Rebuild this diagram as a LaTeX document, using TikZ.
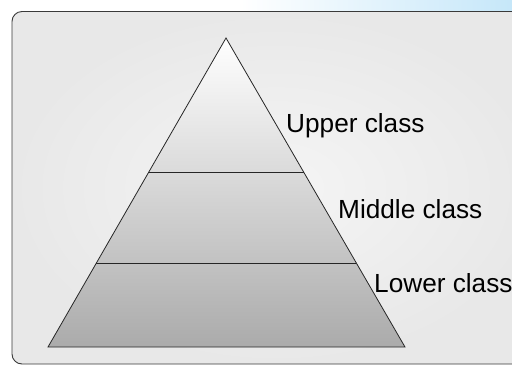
\documentclass[tikz,border=0pt]{standalone}
\usepackage{fontspec}
\setmainfont{Liberation Sans}
\definecolor{skyband}{HTML}{C6E7F9}
\definecolor{boxedge}{HTML}{3A3A3A}
\tikzset{
  lbl/.style={anchor=base west, inner sep=0pt, font=\fontsize{26.2}{30}\selectfont},
  layerline/.style={draw=black!85, line width=0.8pt},
}
\begin{document}
\begin{tikzpicture}[x=1pt,y=-1pt]
\useasboundingbox (0,0) rectangle (512,365);
\clip (0,0) rectangle (512,365);
\fill[white] (0,0) rectangle (512,365);
% blue band at top right
\shade[left color=white, right color=skyband] (240,0) rectangle (512,12);
% panel
\shade[inner color=white!96!black, outer color=black!9, rounded corners=10pt]
  (12,11.5) rectangle (540,364);
\draw[boxedge, line width=0.9pt, rounded corners=10pt]
  (12,11.5) rectangle (540,364);
% pyramid
\coordinate (apex) at (226,38);
\coordinate (bl) at (48,347);
\coordinate (br) at (405,347);
\shade[top color=white, bottom color=black!33] (apex) -- (br) -- (bl) -- cycle;
\draw[layerline] (148.8,172) -- (303.6,172);
\draw[layerline] (96.4,263) -- (356.3,263);
\draw[black!85, line width=0.8pt, line join=miter] (apex) -- (br) -- (bl) -- cycle;
% labels
\node[lbl] (upper) at (286,132) {Upper class};
\node[lbl] (middle) at (338,218) {Middle class};
\node[lbl] (lower) at (374,292) {Lower class};
\end{tikzpicture}
\end{document}
